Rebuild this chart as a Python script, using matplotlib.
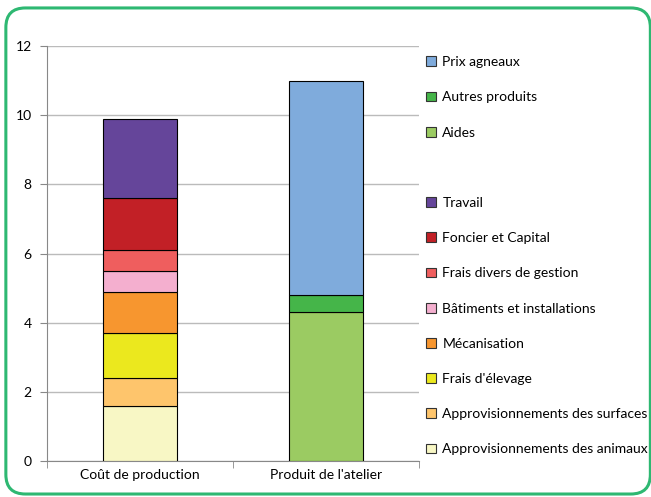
import matplotlib
matplotlib.use('Agg')
import matplotlib.pyplot as plt
from matplotlib.patches import Patch, FancyBboxPatch

plt.rcParams['font.family'] = ['Lato', 'DejaVu Sans']

# catégories
categories = ['Coût de production', "Produit de l'atelier"]

# coût de production (du bas vers le haut)
cout_labels = ['Approvisionnements des animaux', 'Approvisionnements des surfaces',
               "Frais d'élevage", 'Mécanisation', 'Bâtiments et installations',
               'Frais divers de gestion', 'Foncier et Capital', 'Travail']
cout_values = [1.6, 0.8, 1.3, 1.2, 0.6, 0.6, 1.5, 2.3]
cout_colors = ['#F8F7C5', '#FEC56C', '#EBE81E', '#F7962F', '#F4AFCF',
               '#EF5E5E', '#C22026', '#65459A']

# produit de l'atelier (du bas vers le haut)
prod_labels = ['Aides', 'Autres produits', 'Prix agneaux']
prod_values = [4.3, 0.5, 6.2]
prod_colors = ['#9BCB62', '#45B549', '#7FABDC']

fig = plt.figure(figsize=(6.51, 4.97), dpi=100)

# cadre vert arrondi
cadre = FancyBboxPatch((0.009, 0.006), 0.99, 0.978, transform=fig.transFigure,
                       boxstyle='round,pad=0,rounding_size=0.03',
                       facecolor='none', edgecolor='#2EB872', linewidth=2.2,
                       mutation_aspect=651 / 497)
fig.patches.append(cadre)

ax = fig.add_axes([0.0722, 0.0724, 0.5714, 0.835])

handles = {}
bottom = 0
for lab, val, col in zip(cout_labels, cout_values, cout_colors):
    b = ax.bar(0, val, 0.4, bottom=bottom, color=col, edgecolor='black', linewidth=0.8, zorder=3)
    handles[lab] = b
    bottom += val
bottom = 0
for lab, val, col in zip(prod_labels, prod_values, prod_colors):
    b = ax.bar(1, val, 0.4, bottom=bottom, color=col, edgecolor='black', linewidth=0.8, zorder=3)
    handles[lab] = b
    bottom += val

ax.set_xlim(-0.5, 1.5)
ax.set_ylim(0, 12)
ax.set_yticks(range(0, 13, 2))
ax.set_xticks([0, 1])
ax.set_xticklabels(categories, fontsize=10)
ax.set_xticks([-0.5, 0.5, 1.5], minor=True)
ax.tick_params(axis='x', which='major', length=0, pad=6)
ax.tick_params(axis='x', which='minor', length=5, color='#888888')
ax.tick_params(axis='y', length=5, color='#888888', labelsize=10, pad=6)
ax.yaxis.grid(True, color='#BBBBBB', linewidth=1)
ax.set_axisbelow(True)
for s in ['top', 'right']:
    ax.spines[s].set_visible(False)
for s in ['left', 'bottom']:
    ax.spines[s].set_color('#888888')

# légende : produits, ligne vide, puis coûts
ordre = prod_labels[::-1] + [None] + cout_labels[::-1]
leg_h = []
leg_l = []
for lab in ordre:
    if lab is None:
        leg_h.append(Patch(facecolor='none', edgecolor='none'))
        leg_l.append(' ')
    else:
        p = handles[lab].patches[0]
        leg_h.append(Patch(facecolor=p.get_facecolor(), edgecolor='#333333', linewidth=0.8))
        leg_l.append(lab)
fig.legend(leg_h, leg_l, loc='upper left', bbox_to_anchor=(0.655, 0.887),
           frameon=False, fontsize=10, handlelength=0.7, handleheight=0.7,
           handletextpad=0.45, labelspacing=1.67, borderaxespad=0, borderpad=0)

plt.savefig('out.png', dpi=100)
